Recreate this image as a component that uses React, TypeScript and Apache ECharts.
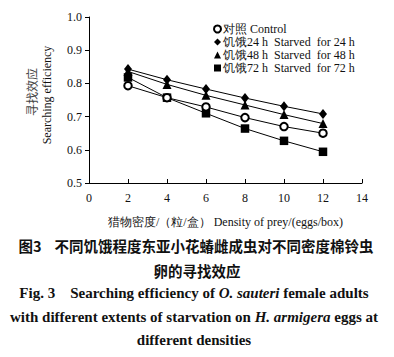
import React, { useEffect, useRef } from "react";
import * as echarts from "echarts";

const density = [2, 4, 6, 8, 10, 12];
const control = [0.793, 0.757, 0.729, 0.697, 0.67, 0.65];
const starved24 = [0.843, 0.811, 0.783, 0.756, 0.731, 0.708];
const starved48 = [0.836, 0.797, 0.764, 0.735, 0.706, 0.679];
const starved72 = [0.818, 0.757, 0.71, 0.664, 0.627, 0.594];
const seriesNames = [
  "对照 Control",
  "饥饿24 h  Starved  for 24 h",
  "饥饿48 h  Starved  for 48 h",
  "饥饿72 h  Starved  for 72 h",
];
const seriesSymbols = ["emptyCircle", "diamond", "triangle", "rect"];
const seriesValues = [control, starved24, starved48, starved72];

const FONT = "Liberation Serif";
const CJK = "Noto Sans CJK SC";

export default function App() {
  const ref = useRef<HTMLDivElement>(null);
  useEffect(() => {
    document.body.style.margin = "0";
    const chart = echarts.init(ref.current!, null, { renderer: "svg" });
    const symbolSizes: any[] = [7.5, [8, 10], 9, 8.5];
    const bold = { fontFamily: FONT, fontSize: 15, fontWeight: "bold", fill: "#111" };
    const boldItalic = { ...bold, fontStyle: "italic" };
    chart.setOption({
      animation: false,
      backgroundColor: "#fff",
      grid: { left: 89, right: 32, top: 17, bottom: 174, containLabel: false },
      legend: {
        orient: "vertical",
        left: 213,
        top: 23,
        itemWidth: 7,
        itemHeight: 7,
        itemGap: 1,
        padding: 0,
        textStyle: { fontFamily: FONT, fontSize: 12, lineHeight: 12, color: "#111", padding: [0, 0, 0, -3] },
        data: seriesNames.map((n, i) => ({ name: n, icon: seriesSymbols[i] })),
      },
      xAxis: {
        type: "value",
        min: 0,
        max: 14,
        interval: 2,
        axisLine: { lineStyle: { color: "#000", width: 1 } },
        axisTick: { inside: true, length: 4, lineStyle: { color: "#000" } },
        axisLabel: { fontFamily: FONT, fontSize: 12, color: "#111", margin: 9 },
        splitLine: { show: false },
        name: "猎物密度/（粒/盒） Density of prey/(eggs/box)",
        nameLocation: "middle",
        nameGap: 33,
        nameTextStyle: { fontFamily: FONT, fontSize: 12, color: "#111" },
      },
      yAxis: {
        type: "value",
        min: 0.5,
        max: 1.0,
        interval: 0.1,
        axisLine: { show: true, lineStyle: { color: "#000", width: 1 } },
        axisTick: { show: true, inside: false, length: 4, lineStyle: { color: "#000" } },
        axisLabel: {
          fontFamily: FONT,
          fontSize: 12,
          color: "#111",
          margin: 7,
          formatter: (v: number) => v.toFixed(1),
        },
        splitLine: { show: false },
      },
      series: seriesNames.map((n, i) => ({
        name: n,
        type: "line",
        data: density.map((d, j) => [d, seriesValues[i][j]]),
        symbol: seriesSymbols[i],
        symbolSize: symbolSizes[i],
        showAllSymbol: true,
        lineStyle: { color: "#000", width: 1 },
        itemStyle: {
          color: "#000",
          borderColor: "#000",
          borderWidth: i === 0 ? 1.5 : 0,
        },
        z: 10 - i,
      })),
      graphic: [
        {
          type: "text",
          x: 31,
          y: 92,
          rotation: Math.PI / 2,
          style: {
            text: "寻找效应",
            fontFamily: CJK,
            fontSize: 12,
            fill: "#444",
            align: "center",
            verticalAlign: "middle",
          },
        },
        {
          type: "text",
          x: 47,
          y: 95,
          rotation: Math.PI / 2,
          style: {
            text: "Searching efficiency",
            fontFamily: FONT,
            fontSize: 12,
            fill: "#111",
            align: "center",
            verticalAlign: "middle",
          },
        },
        {
          type: "text",
          x: 196,
          y: 245,
          style: {
            text: "图3    不同饥饿程度东亚小花蝽雌成虫对不同密度棉铃虫",
            fontFamily: CJK,
            fontSize: 14.5,
            fontWeight: "bold",
            fill: "#111",
            align: "center",
            verticalAlign: "middle",
          },
        },
        {
          type: "text",
          x: 197,
          y: 270,
          style: {
            text: "卵的寻找效应",
            fontFamily: CJK,
            fontSize: 14.5,
            fontWeight: "bold",
            fill: "#111",
            align: "center",
            verticalAlign: "middle",
          },
        },
        {
          type: "text",
          x: 194,
          y: 293,
          style: {
            text: "{b|Fig. 3    Searching efficiency of }{i|O. sauteri}{b| female adults}",
            align: "center",
            verticalAlign: "middle",
            rich: { b: bold, i: boldItalic },
          },
        },
        {
          type: "text",
          x: 194,
          y: 317,
          style: {
            text: "{b|with different extents of starvation on }{i|H. armigera}{b| eggs at}",
            align: "center",
            verticalAlign: "middle",
            rich: { b: bold, i: boldItalic },
          },
        },
        {
          type: "text",
          x: 194,
          y: 340,
          style: {
            text: "different densities",
            ...bold,
            align: "center",
            verticalAlign: "middle",
          },
        },
      ],
    });
    return () => chart.dispose();
  }, []);
  return <div ref={ref} style={{ width: 394, height: 357 }} />;
}
